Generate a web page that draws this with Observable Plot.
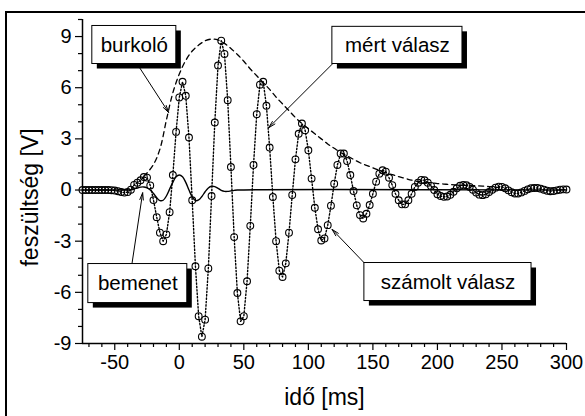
<!DOCTYPE html>
<html><head><meta charset="utf-8">
<script src="https://cdn.jsdelivr.net/npm/d3@7"></script>
<script src="https://cdn.jsdelivr.net/npm/@observablehq/plot@0.6"></script>
<style>
html,body{margin:0;padding:0;background:#fff;}
#wrap{position:relative;width:585px;height:416px;overflow:hidden;background:#fff;}
#frame{position:absolute;left:5px;top:11px;width:700px;height:500px;border-top:2.5px solid #000;border-left:2.5px solid #000;}
#chart{position:absolute;left:0;top:0;}
</style></head><body>
<div id="wrap"><div id="frame"></div><div id="chart"></div></div>
<script>
// response (measured = dotted line, computed = circles), time in ms
const respTime = [
  -75,-72.5,-70,-67.5,-65,-62.5,-60,-57.5,-55,-52.5,
  -50,-47.5,-45,-42.5,-40,-37.5,-35,-32.5,-30,-27.5,
  -25,-22.5,-20,-17.5,-15,-12.5,-10,-7.5,-5,-2.5,
  0,2.5,5,7.5,10,12.5,15,17.5,20,22.5,
  25,27.5,30,32.5,35,37.5,40,42.5,45,47.5,
  50,52.5,55,57.5,60,62.5,65,67.5,70,72.5,
  75,77.5,80,82.5,85,87.5,90,92.5,95,97.5,
  100,102.5,105,107.5,110,112.5,115,117.5,120,122.5,
  125,127.5,130,132.5,135,137.5,140,142.5,145,147.5,
  150,152.5,155,157.5,160,162.5,165,167.5,170,172.5,
  175,177.5,180,182.5,185,187.5,190,192.5,195,197.5,
  200,202.5,205,207.5,210,212.5,215,217.5,220,222.5,
  225,227.5,230,232.5,235,237.5,240,242.5,245,247.5,
  250,252.5,255,257.5,260,262.5,265,267.5,270,272.5,
  275,277.5,280,282.5,285,287.5,290,292.5,295,297.5,
  300
];
const respValue = [
  0,0,0,0,0,0,0,0,0,-0.01,
  -0.03,-0.07,-0.12,-0.15,-0.12,0.02,0.3,0.43,0.57,0.76,
  0.73,0.27,-0.59,-1.59,-2.5,-3.0,-2.6,-1.3,0.88,3.41,
  5.43,6.35,5.53,3.08,-0.6,-4.47,-7.4,-8.6,-7.6,-4.6,
  -0.35,3.96,7.3,8.76,7.98,5.27,1.35,-2.76,-6.04,-7.7,
  -7.4,-5.35,-2.1,1.47,4.45,6.18,6.35,4.94,2.49,-0.41,
  -3.0,-4.73,-5.1,-4.3,-2.5,-0.29,1.8,3.3,3.9,3.5,
  2.33,0.67,-1.04,-2.3,-2.96,-2.84,-2.06,-0.92,0.37,1.47,
  2.14,2.14,1.7,0.88,-0.06,-0.9,-1.47,-1.67,-1.39,-0.88,
  -0.22,0.49,0.96,1.16,1.08,0.72,0.29,-0.22,-0.6,-0.84,
  -0.84,-0.6,-0.22,0.18,0.43,0.59,0.57,0.43,0.24,0,
  -0.25,-0.35,-0.4,-0.38,-0.28,-0.1,0.1,0.25,0.3,0.28,
  0.18,0.02,-0.15,-0.27,-0.3,-0.25,-0.12,0.02,0.14,0.2,
  0.18,0.1,-0.02,-0.13,-0.2,-0.2,-0.14,-0.05,0.04,0.1,
  0.12,0.12,0.08,0.02,-0.04,-0.07,-0.06,-0.02,0.02,0.04,
  0.03
];
// envelope (burkoló)
const envTime = [-27.5,-25,-20,-15,-10,-5,0,5,10,15,20,25,30,35,40,45,50,55,60,65,70,75,80,85,90,95,100,105,110,115,120,125,130,135,140,145,150,155,160,165,170,175,180,185,190,195,200,205,210,215,220,225,230,235,240,245,248];
const envValue = [0.8,1.0,1.5,2.4,4.1,5.7,6.8,7.6,8.15,8.5,8.75,8.85,8.8,8.6,8.3,7.95,7.55,7.1,6.7,6.3,5.9,5.45,5.05,4.65,4.25,3.9,3.6,3.3,3.0,2.7,2.45,2.2,2.0,1.8,1.6,1.45,1.3,1.15,1.0,0.9,0.78,0.68,0.58,0.5,0.45,0.42,0.38,0.35,0.32,0.3,0.28,0.27,0.25,0.23,0.2,0.16,0.14];
// input (bemenet)
const inTime = [-75,-45,-40,-37.5,-35,-32.5,-30,-27.5,-25,-22.5,-20,-17.5,-15,-12.5,-10,-7.5,-5,-2.5,0,2.5,5,7.5,10,12.5,15,17.5,20,22.5,25,27.5,30,32.5,35,37.5,40,42.5,45,300];
const inValue = [0,0,0,0.02,0.06,0.12,0.17,0.18,0.12,0,-0.2,-0.45,-0.62,-0.6,-0.35,0.05,0.45,0.78,0.88,0.78,0.45,0,-0.4,-0.62,-0.58,-0.38,-0.1,0.12,0.22,0.2,0.1,-0.02,-0.08,-0.08,-0.05,-0.02,0,0];
// axis ticks
const xMajor = [-50,0,50,100,150,200,250,300];
const xMinor = [-70,-60,-40,-30,-20,-10,10,20,30,40,60,70,80,90,110,120,130,140,160,170,180,190,210,220,230,240,260,270,280,290];
const yMajor = [-9,-6,-3,0,3,6,9];
const yMinor = [-8,-7,-5,-4,-2,-1,1,2,4,5,7,8,10];
// annotation boxes (data coordinates) with arrow from box to target
const annotations = [
  {label:"burkoló", x1:-67.4, x2:-2.3, y1:9.62, y2:7.39, fx:-32.6, fy:7.39, tx:-8.3, ty:4.55},
  {label:"mért válasz", x1:118.6, x2:219.4, y1:9.57, y2:7.39, fx:118.6, fy:7.39, tx:69.2, ty:3.65},
  {label:"bemenet", x1:-70.5, x2:6.2, y1:-4.34, y2:-6.63, fx:-36.7, fy:-4.34, tx:-28.4, ty:-0.16},
  {label:"számolt válasz", x1:143.4, x2:272.9, y1:-4.28, y2:-6.51, fx:143.4, fy:-4.28, tx:118.4, ty:-2.31}
];

const resp = respTime.map((t,i)=>({t, v:respValue[i]}));
const env = envTime.map((t,i)=>({t, v:envValue[i]}));
const inp = inTime.map((t,i)=>({t, v:inValue[i]}));
const fmt = d => String(d);

const chart = Plot.plot({
  width: 585, height: 416,
  marginLeft: 82, marginRight: 19, marginTop: 19, marginBottom: 73,
  style: {fontFamily: "'Liberation Sans', Arial, sans-serif", background: "transparent", color: "#000"},
  x: {domain: [-75, 300]},
  y: {domain: [-9, 10]},
  marks: [
    Plot.axisX(xMajor, {tickSize: 7, tickPadding: 4, fontSize: 20, tickFormat: fmt, label: null, strokeWidth: 1.2}),
    Plot.axisX(xMinor, {tickSize: 4, tickFormat: () => "", label: null, strokeWidth: 1.2}),
    Plot.axisY(yMajor, {tickSize: 7, tickPadding: 4, fontSize: 20, tickFormat: fmt, label: null, strokeWidth: 1.2}),
    Plot.axisY(yMinor, {tickSize: 4, tickFormat: () => "", label: null, strokeWidth: 1.2}),
    Plot.ruleY([-9], {strokeWidth: 1.5}),
    Plot.ruleX([-75], {strokeWidth: 1.5}),
    Plot.text(["idő [ms]"], {frameAnchor: "bottom", lineAnchor: "middle", dy: 54, fontSize: 23}),
    Plot.text(["feszültség [V]"], {frameAnchor: "left", textAnchor: "middle", lineAnchor: "middle", dx: -52, dy: 16, rotate: -90, fontSize: 23}),
    Plot.line(inp, {x: "t", y: "v", curve: "catmull-rom", stroke: "#000", strokeWidth: 1.4}),
    Plot.line(env, {x: "t", y: "v", curve: "catmull-rom", stroke: "#000", strokeWidth: 1.3, strokeDasharray: "5,4"}),
    Plot.line(resp, {x: "t", y: "v", stroke: "#000", strokeWidth: 1.4, strokeDasharray: "1.4,2"}),
    Plot.dot(resp, {x: "t", y: "v", r: 3.4, stroke: "#000", fill: "none", strokeWidth: 1.1}),
    Plot.arrow(annotations, {x1: "fx", y1: "fy", x2: "tx", y2: "ty", stroke: "#000", strokeWidth: 1, headLength: 11, headAngle: 28}),
    Plot.rect(annotations, {x1: "x1", x2: "x2", y1: "y1", y2: "y2", fill: "#000", dx: 5, dy: 5}),
    Plot.rect(annotations, {x1: "x1", x2: "x2", y1: "y1", y2: "y2", fill: "#fff", stroke: "#000", strokeWidth: 1}),
    Plot.text(annotations, {x: d => (d.x1 + d.x2) / 2, y: d => (d.y1 + d.y2) / 2, text: "label", fontSize: 20.5})
  ]
});
document.getElementById("chart").appendChild(chart);
</script>
</body></html>
